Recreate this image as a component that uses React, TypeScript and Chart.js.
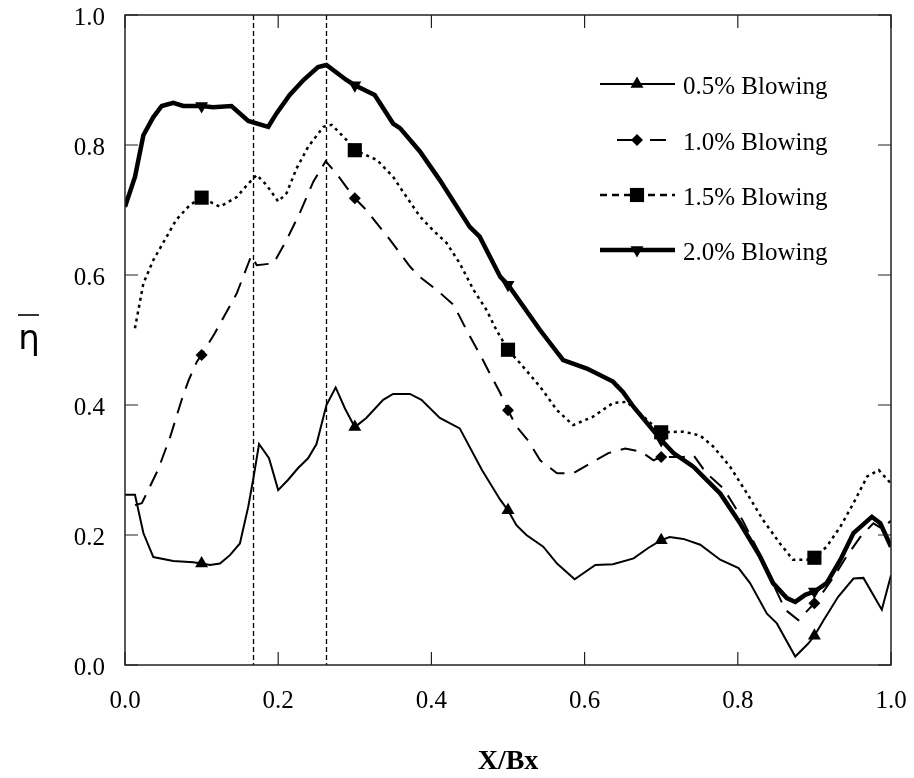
import React, { useEffect, useRef } from 'react';
import { Chart, registerables } from 'chart.js';
import { drawPoint } from 'chart.js/helpers';

Chart.register(...registerables);

// ---------- data ----------
const seriesNames = ['0.5% Blowing', '1.0% Blowing', '1.5% Blowing', '2.0% Blowing'];

const x05 = [0, 0.013, 0.024, 0.037, 0.063, 0.089, 0.1, 0.111, 0.124, 0.137, 0.15, 0.161, 0.168, 0.175, 0.188, 0.2, 0.213, 0.226, 0.239, 0.25, 0.263, 0.275, 0.287, 0.3, 0.315, 0.337, 0.35, 0.372, 0.387, 0.411, 0.437, 0.466, 0.49, 0.5, 0.511, 0.524, 0.546, 0.564, 0.587, 0.614, 0.637, 0.664, 0.683, 0.7, 0.711, 0.729, 0.751, 0.777, 0.801, 0.816, 0.838, 0.851, 0.875, 0.892, 0.9, 0.912, 0.931, 0.951, 0.964, 0.988, 1.0];
const y05 = [0.262, 0.262, 0.203, 0.166, 0.16, 0.158, 0.156, 0.154, 0.156, 0.169, 0.187, 0.244, 0.29, 0.34, 0.318, 0.269, 0.285, 0.303, 0.318, 0.34, 0.4, 0.427, 0.395, 0.366, 0.38, 0.408, 0.417, 0.417, 0.408, 0.38, 0.364, 0.3, 0.254, 0.238, 0.215, 0.2, 0.182, 0.156, 0.132, 0.154, 0.155, 0.164, 0.18, 0.192, 0.197, 0.194, 0.185, 0.162, 0.149, 0.126, 0.079, 0.064, 0.013, 0.033, 0.045, 0.069, 0.105, 0.133, 0.134, 0.085, 0.138];

const x10 = [0.013, 0.022, 0.043, 0.059, 0.074, 0.083, 0.094, 0.1, 0.117, 0.146, 0.165, 0.172, 0.194, 0.211, 0.228, 0.246, 0.262, 0.276, 0.3, 0.315, 0.346, 0.372, 0.385, 0.407, 0.429, 0.446, 0.466, 0.476, 0.49, 0.5, 0.511, 0.527, 0.542, 0.564, 0.585, 0.607, 0.631, 0.653, 0.674, 0.69, 0.7, 0.729, 0.742, 0.759, 0.781, 0.796, 0.807, 0.829, 0.846, 0.862, 0.879, 0.9, 0.907, 0.925, 0.942, 0.96, 0.977, 0.988, 1.0];
const y10 = [0.246, 0.249, 0.3, 0.351, 0.408, 0.438, 0.467, 0.477, 0.51, 0.572, 0.63, 0.615, 0.618, 0.654, 0.695, 0.744, 0.775, 0.756, 0.718, 0.7, 0.654, 0.613, 0.597, 0.577, 0.554, 0.515, 0.472, 0.449, 0.418, 0.392, 0.367, 0.344, 0.315, 0.295, 0.295, 0.31, 0.326, 0.333, 0.328, 0.315, 0.32, 0.32, 0.323, 0.295, 0.272, 0.244, 0.221, 0.17, 0.125, 0.085, 0.069, 0.095, 0.105, 0.135, 0.167, 0.197, 0.218, 0.21, 0.222];

const x15 = [0.013, 0.024, 0.037, 0.052, 0.067, 0.085, 0.1, 0.124, 0.146, 0.159, 0.172, 0.185, 0.2, 0.211, 0.224, 0.239, 0.259, 0.27, 0.289, 0.3, 0.329, 0.35, 0.363, 0.385, 0.402, 0.42, 0.437, 0.455, 0.472, 0.485, 0.5, 0.516, 0.542, 0.564, 0.585, 0.611, 0.637, 0.655, 0.672, 0.7, 0.729, 0.751, 0.768, 0.79, 0.812, 0.833, 0.855, 0.872, 0.89, 0.9, 0.916, 0.934, 0.951, 0.969, 0.984, 1.0];
const y15 = [0.518, 0.587, 0.623, 0.654, 0.685, 0.708, 0.719, 0.705, 0.72, 0.738, 0.754, 0.738, 0.713, 0.726, 0.764, 0.797, 0.828, 0.831, 0.808, 0.792, 0.777, 0.751, 0.728, 0.69, 0.669, 0.649, 0.618, 0.577, 0.546, 0.515, 0.485, 0.464, 0.428, 0.392, 0.369, 0.382, 0.403, 0.405, 0.387, 0.358, 0.359, 0.353, 0.336, 0.305, 0.264, 0.223, 0.187, 0.162, 0.162, 0.165, 0.182, 0.213, 0.249, 0.29, 0.3, 0.279];

const x20 = [0, 0.013, 0.024, 0.037, 0.048, 0.063, 0.076, 0.1, 0.115, 0.139, 0.161, 0.187, 0.198, 0.215, 0.233, 0.252, 0.263, 0.289, 0.3, 0.326, 0.35, 0.359, 0.385, 0.411, 0.45, 0.463, 0.49, 0.5, 0.542, 0.572, 0.603, 0.637, 0.65, 0.664, 0.7, 0.716, 0.742, 0.777, 0.803, 0.829, 0.846, 0.864, 0.875, 0.888, 0.9, 0.916, 0.934, 0.951, 0.975, 0.986, 1.0];
const y20 = [0.705, 0.751, 0.815, 0.843, 0.86, 0.865, 0.86, 0.86, 0.858, 0.86, 0.837, 0.828, 0.849, 0.877, 0.9, 0.92, 0.923, 0.9, 0.892, 0.877, 0.833, 0.826, 0.79, 0.746, 0.674, 0.659, 0.597, 0.585, 0.515, 0.469, 0.456, 0.436, 0.42, 0.397, 0.346, 0.326, 0.305, 0.264, 0.218, 0.167, 0.126, 0.103, 0.097, 0.108, 0.113, 0.126, 0.162, 0.203, 0.228, 0.218, 0.182];

const seriesX = [x05, x10, x15, x20];
const seriesY = [y05, y10, y15, y20];

const markerX = [0.1, 0.3, 0.5, 0.7, 0.9];
const refLinesX = [0.1675, 0.263];
const tickValues = [0, 0.2, 0.4, 0.6, 0.8, 1.0];
const xTitle = 'X/Bx';
const yTitle = 'η';

// ---------- styles ----------
const styles = [
  { width: 2, dash: [] as number[], legendDash: [] as number[], point: 'triangle', rot: 0, r: 7.5 },
  { width: 2, dash: [16, 10], legendDash: [16, 17], point: 'rectRot', rot: 0, r: 6 },
  { width: 2.5, dash: [3, 4], legendDash: [7, 5], point: 'rect', rot: 0, r: 10 },
  { width: 4.5, dash: [] as number[], legendDash: [] as number[], point: 'triangle', rot: 180, r: 7.5 },
];

const SERIF = '"Liberation Serif", "Times New Roman", serif';

const isMarker = (x: number) => markerX.some((m) => Math.abs(m - x) < 1e-6);

const zeroPad = (s: any) => {
  s.paddingTop = 0;
  s.paddingBottom = 0;
  s.paddingLeft = 0;
  s.paddingRight = 0;
};

const framePlugin = {
  id: 'frame',
  beforeDatasetsDraw(chart: any) {
    const { ctx, chartArea: a, scales } = chart;
    ctx.save();
    ctx.strokeStyle = '#000';
    ctx.lineWidth = 1.3;
    ctx.setLineDash([5, 3]);
    refLinesX.forEach((v) => {
      const px = Math.round(scales.x.getPixelForValue(v)) + 0.5;
      ctx.beginPath();
      ctx.moveTo(px, a.top);
      ctx.lineTo(px, a.bottom);
      ctx.stroke();
    });
    ctx.restore();
  },
  afterDatasetsDraw(chart: any) {
    const { ctx, chartArea: a, scales } = chart;
    ctx.save();
    ctx.strokeStyle = '#222';
    ctx.lineWidth = 1.5;
    ctx.setLineDash([]);
    ctx.strokeRect(a.left, a.top, a.right - a.left, a.bottom - a.top);
    const L = 13;
    ctx.lineWidth = 1.2;
    tickValues.forEach((v) => {
      const px = scales.x.getPixelForValue(v);
      const py = scales.y.getPixelForValue(v);
      ctx.beginPath();
      ctx.moveTo(px, a.bottom);
      ctx.lineTo(px, a.bottom - L);
      ctx.moveTo(px, a.top);
      ctx.lineTo(px, a.top + L);
      ctx.moveTo(a.left, py);
      ctx.lineTo(a.left + L, py);
      ctx.moveTo(a.right, py);
      ctx.lineTo(a.right - L, py);
      ctx.stroke();
    });
    ctx.restore();
  },
  afterDraw(chart: any) {
    const { ctx, chartArea: a } = chart;
    ctx.save();
    // legend
    const lx0 = 592, lx1 = 667, mx = 629, tx = 675;
    const ly = [76, 132, 187, 242];
    seriesNames.forEach((name, i) => {
      const s = styles[i];
      const y = ly[i];
      ctx.strokeStyle = '#000';
      ctx.lineWidth = s.width;
      ctx.setLineDash(s.legendDash);
      ctx.beginPath();
      if (i === 1) {
        ctx.moveTo(609, y);
        ctx.lineTo(662, y);
      } else {
        ctx.moveTo(lx0, y);
        ctx.lineTo(lx1, y);
      }
      ctx.stroke();
      ctx.setLineDash([]);
      ctx.fillStyle = '#000';
      ctx.lineWidth = 0;
      drawPoint(ctx, { pointStyle: s.point, rotation: s.rot, radius: s.r, borderWidth: 0 } as any, mx, y);
      ctx.fillStyle = '#000';
      ctx.font = `25px ${SERIF}`;
      ctx.textAlign = 'left';
      ctx.textBaseline = 'alphabetic';
      ctx.fillText(name, tx, y + 10);
    });
    // x title
    ctx.fillStyle = '#000';
    ctx.font = `bold 28px ${SERIF}`;
    ctx.textAlign = 'center';
    ctx.textBaseline = 'alphabetic';
    ctx.fillText(xTitle, (a.left + a.right) / 2, 761);
    // y title (upright eta with overbar)
    ctx.font = `34px "DejaVu Sans", sans-serif`;
    ctx.textAlign = 'center';
    ctx.textBaseline = 'middle';
    const cy = (a.top + a.bottom) / 2;
    ctx.fillText(yTitle, 21, cy);
    ctx.strokeStyle = '#000';
    ctx.lineWidth = 1.6;
    ctx.beginPath();
    ctx.moveTo(10, cy - 25);
    ctx.lineTo(31, cy - 25);
    ctx.stroke();
    ctx.restore();
  },
};

export default function App() {
  const ref = useRef<HTMLCanvasElement | null>(null);
  useEffect(() => {
    if (!ref.current) return;
    const datasets = seriesNames.map((name, i) => {
      const s = styles[i];
      return {
        label: name,
        data: seriesX[i].map((x, j) => ({ x, y: seriesY[i][j] })),
        showLine: true,
        borderColor: '#000',
        backgroundColor: '#000',
        borderWidth: s.width,
        borderDash: s.dash,
        tension: 0,
        pointStyle: s.point,
        rotation: s.rot,
        pointRadius: (c: any) => (c.raw && isMarker(c.raw.x) ? s.r : 0),
        pointHoverRadius: 0,
        pointHitRadius: 0,
        pointBackgroundColor: '#000',
        pointBorderColor: '#000',
        pointBorderWidth: 0,
        fill: false,
      };
    });
    const chart = new Chart(ref.current, {
      type: 'scatter',
      data: { datasets } as any,
      options: {
        responsive: false,
        animation: false,
        events: [],
        layout: { padding: { top: 7, right: 15, left: 0, bottom: 0 }, autoPadding: false } as any,
        plugins: { legend: { display: false }, tooltip: { enabled: false }, title: { display: false } },
        scales: {
          x: {
            type: 'linear',
            min: 0,
            max: 1,
            grid: { display: false, drawTicks: false },
            border: { display: false },
            afterBuildTicks: (s: any) => {
              s.ticks = tickValues.map((v) => ({ value: v }));
            },
            afterFit: (s: any) => {
              s.height = 105;
              zeroPad(s);
            },
            ticks: {
              callback: (v: any) => Number(v).toFixed(1),
              font: { family: SERIF, size: 25 },
              color: '#000',
              padding: 21,
              maxRotation: 0,
              autoSkip: false,
            },
          },
          y: {
            type: 'linear',
            min: 0,
            max: 1,
            grid: { display: false, drawTicks: false },
            border: { display: false },
            afterBuildTicks: (s: any) => {
              s.ticks = tickValues.map((v) => ({ value: v }));
            },
            afterFit: (s: any) => {
              s.width = 117;
              zeroPad(s);
            },
            ticks: {
              callback: (v: any) => Number(v).toFixed(1),
              font: { family: SERIF, size: 25 },
              color: '#000',
              padding: 20,
              labelOffset: 3,
              autoSkip: false,
            },
          },
        },
      } as any,
      plugins: [framePlugin],
    });
    return () => chart.destroy();
  }, []);
  return (
    <div style={{ width: 898, height: 762 }}>
      <canvas ref={ref} width={898} height={762} style={{ display: 'block', width: 898, height: 762 }} />
    </div>
  );
}
